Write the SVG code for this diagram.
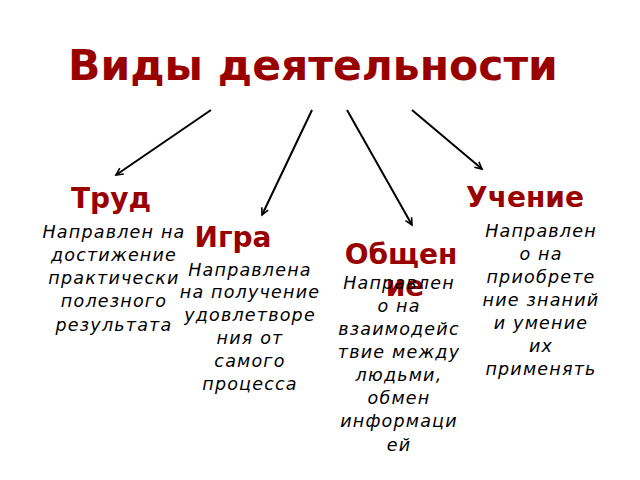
<svg xmlns="http://www.w3.org/2000/svg" width="640" height="480" viewBox="0 0 640 480">
<defs>
<marker id="ah" markerWidth="10" markerHeight="10" refX="8" refY="5" orient="auto" markerUnits="userSpaceOnUse">
<path d="M1,1.5 L8,5 L1,8.5" fill="none" stroke="#000" stroke-width="1.6"/>
</marker>
<style>
.title{font-family:"DejaVu Sans",sans-serif;font-weight:bold;font-size:42.5px;fill:#990000;text-anchor:middle}
.head{font-family:"DejaVu Sans",sans-serif;font-weight:bold;font-size:28px;fill:#990000;text-anchor:middle}
.desc{font-family:"DejaVu Sans",sans-serif;font-style:italic;font-size:17.5px;letter-spacing:1.2px;fill:#000;text-anchor:middle}
.conn line{stroke:#000;stroke-width:2;marker-end:url(#ah)}
</style>
</defs>
<rect width="640" height="480" fill="#fff"/>
<g id="title"><text class="title" x="313" y="80">Виды деятельности</text></g>
<g id="connectors" class="conn">
<line x1="211" y1="110" x2="116" y2="175"/>
<line x1="312" y1="110" x2="262" y2="215"/>
<line x1="347" y1="110" x2="412" y2="225"/>
<line x1="412" y1="110" x2="482" y2="169"/>
</g>
<g id="trud">
<text class="head" x="111" y="208">Труд</text>
<text class="desc"><tspan x="114" y="238">Направлен на</tspan><tspan x="114" y="261">достижение</tspan><tspan x="114" y="284">практически</tspan><tspan x="114" y="307">полезного</tspan><tspan x="114" y="331">результата</tspan></text>
</g>
<g id="igra">
<text class="head" x="233" y="247">Игра</text>
<text class="desc"><tspan x="250" y="276">Направлена</tspan><tspan x="250" y="298">на получение</tspan><tspan x="250" y="321">удовлетворе</tspan><tspan x="250" y="344">ния от</tspan><tspan x="250" y="367">самого</tspan><tspan x="250" y="390">процесса</tspan></text>
</g>
<g id="obshchenie">
<text class="head"><tspan x="401" y="264">Общен</tspan><tspan x="405" y="296">ие</tspan></text>
<text class="desc"><tspan x="399" y="289">Направлен</tspan><tspan x="399" y="312">о на</tspan><tspan x="399" y="335">взаимодейс</tspan><tspan x="399" y="358">твие между</tspan><tspan x="399" y="381">людьми,</tspan><tspan x="399" y="404">обмен</tspan><tspan x="399" y="427">информаци</tspan><tspan x="399" y="451">ей</tspan></text>
</g>
<g id="uchenie">
<text class="head" x="525" y="207">Учение</text>
<text class="desc"><tspan x="541" y="237">Направлен</tspan><tspan x="541" y="260">о на</tspan><tspan x="541" y="283">приобрете</tspan><tspan x="541" y="306">ние знаний</tspan><tspan x="541" y="329">и умение</tspan><tspan x="541" y="352">их</tspan><tspan x="541" y="375">применять</tspan></text>
</g>
</svg>
